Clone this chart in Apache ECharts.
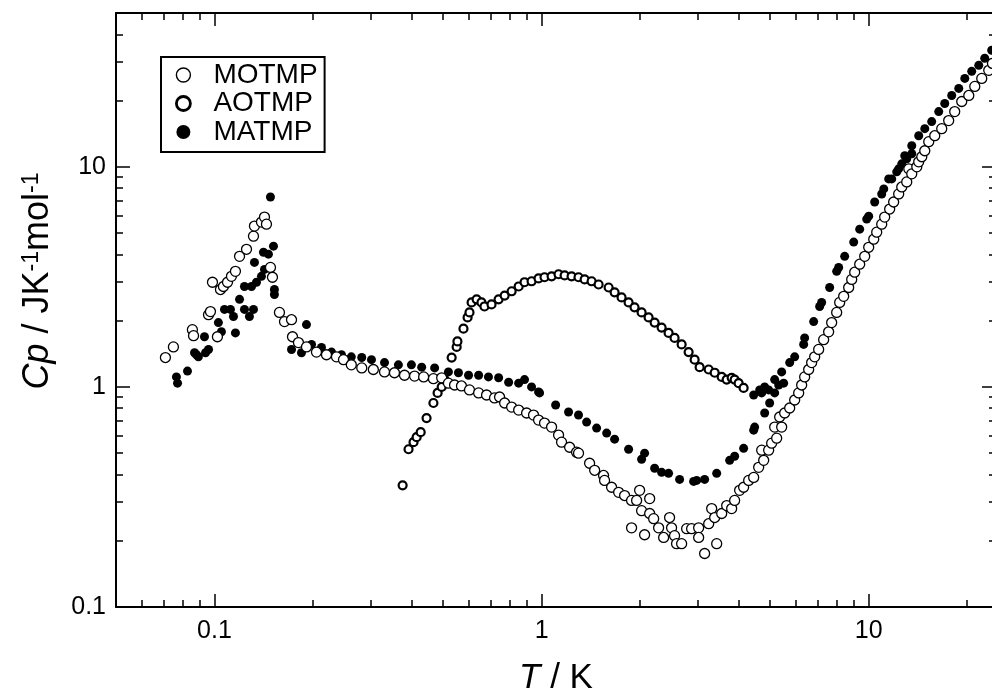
<!DOCTYPE html>
<html>
<head>
<meta charset="utf-8">
</head>
<body style="margin:0">
<div id="chart" style="width:992px;height:691px"></div>
<script src="https://cdn.jsdelivr.net/npm/echarts@6.0.0/dist/echarts.min.js"></script>
<script>
// [T (K), Cp (J K-1 mol-1)]
const motmp = [
  [0.0708,1.36],[0.0749,1.52],[0.0856,1.82],[0.0863,1.71],[0.0959,2.13],[0.0972,2.20],[0.0986,2.99],[0.1021,1.69],
  [0.1043,2.77],[0.1065,2.86],[0.1096,2.99],[0.1127,3.18],[0.1159,3.35],[0.1193,3.92],[0.1253,4.22],[0.1316,4.84],
  [0.1325,5.38],[0.1392,5.61],[0.1422,5.91],[0.1442,5.49],[0.1483,3.49],[0.1504,3.15],
  [0.158,2.18],[0.1637,1.98],[0.172,2.02],[0.1732,1.69],[0.1806,1.59],[0.1911,1.52],[0.205,1.44],[0.220,1.40],
  [0.236,1.37],[0.248,1.33],[0.262,1.26],[0.282,1.22],[0.306,1.20],[0.331,1.17],[0.355,1.16],[0.381,1.13],
  [0.409,1.12],[0.436,1.11],[0.467,1.09],[0.495,1.10],[0.519,1.04],[0.542,1.02],[0.569,1.01],[0.602,0.969],
  [0.642,0.939],[0.679,0.919],[0.718,0.891],[0.744,0.900],[0.771,0.845],[0.810,0.810],[0.851,0.785],[0.900,0.761],
  [0.945,0.745],[0.979,0.707],[1.021,0.685],[1.073,0.657],[1.127,0.604],[1.151,0.561],[1.218,0.532],[1.279,0.505],
  [1.297,0.500],[1.402,0.450],[1.453,0.418],[1.547,0.396],[1.558,0.376],[1.637,0.350],[1.720,0.332],[1.794,0.321],
  [1.884,0.305],[1.952,0.305],[1.994,0.339],[2.140,0.311],[2.022,0.274],[2.140,0.266],[2.201,0.252],[2.279,0.229],
  [1.884,0.229],[2.065,0.213],[2.361,0.207],[2.462,0.255],[2.497,0.229],[2.550,0.211],[2.586,0.194],[2.680,0.194],
  [2.776,0.227],[2.875,0.227],[3.021,0.229],[3.021,0.207],[3.151,0.175],[3.430,0.194],[3.242,0.239],[3.311,0.280],
  [3.382,0.255],[3.553,0.266],[3.680,0.289],[3.811,0.280],[3.892,0.305],[4.031,0.339],[4.146,0.350],[4.296,0.376],
  [4.450,0.388],[4.609,0.431],[4.775,0.464],[4.708,0.516],[4.945,0.516],[5.051,0.555],[5.232,0.585],[5.159,0.657],
  [5.419,0.657],[5.343,0.730],[5.535,0.761],[5.734,0.802],[5.939,0.872],[6.108,0.939],[6.238,1.02],[6.371,1.11],
  [6.553,1.20],[6.693,1.29],[6.836,1.37],[7.031,1.48],[7.282,1.64],[7.543,1.78],[7.705,1.96],[7.981,2.18],
  [8.152,2.42],[8.385,2.58],[8.685,2.83],[8.872,3.08],[9.061,3.32],[9.386,3.61],[9.723,3.92],[10.0,4.31],
  [10.36,4.69],[10.58,5.05],[10.96,5.49],[11.19,5.91],[11.59,6.43],[11.92,6.92],[12.35,7.53],[12.62,8.10],
  [13.07,8.54],[13.26,9.79],[13.54,9.29],[14.03,10.0],[14.22,10.54],[14.53,11.11],[14.84,11.83],[15.26,13.01],
  [15.92,13.85],[16.72,14.91],[17.56,16.22],[18.32,17.83],[19.25,19.81],[20.23,21.10],[21.10,23.19],[22.16,25.22],
  [23.28,27.44],[23.9,29.5]
];

const aotmp = [
  [0.376,0.357],[0.392,0.521],[0.406,0.561],[0.415,0.591],[0.427,0.623],[0.445,0.722],[0.467,0.845],[0.481,0.939],
  [0.495,1.00],[0.505,1.08],[0.531,1.36],[0.550,1.52],[0.553,1.61],[0.577,1.84],[0.594,2.07],[0.602,2.18],
  [0.611,2.42],[0.633,2.50],[0.655,2.42],[0.669,2.32],[0.703,2.37],[0.739,2.50],[0.771,2.60],[0.810,2.72],
  [0.851,2.86],[0.887,2.99],[0.932,3.02],[0.979,3.11],[1.021,3.15],[1.073,3.18],[1.127,3.25],[1.176,3.21],
  [1.235,3.18],[1.297,3.15],[1.354,3.08],[1.422,3.02],[1.494,2.92],[1.603,2.83],[1.672,2.69],[1.756,2.55],
  [1.845,2.42],[1.924,2.30],[2.022,2.18],[2.124,2.07],[2.216,1.96],[2.328,1.86],[2.445,1.76],[2.550,1.67],
  [2.680,1.56],[2.815,1.44],[2.937,1.33],[3.042,1.23],[3.242,1.20],[3.382,1.16],[3.553,1.11],[3.680,1.08],
  [3.811,1.10],[3.892,1.08],[4.003,1.04],[4.146,0.99]
];

const matmp = [
  [0.0765,1.11],[0.0771,1.04],[0.0827,1.18],[0.0869,1.43],[0.0881,1.40],[0.0893,1.37],[0.0932,1.69],[0.0939,1.43],
  [0.0959,1.48],[0.1028,1.96],[0.105,1.78],[0.1073,2.25],[0.1119,2.25],[0.1143,2.09],[0.1159,1.76],[0.1193,2.50],
  [0.1235,2.25],[0.1235,2.86],[0.1279,2.09],[0.1316,2.25],[0.1298,2.86],[0.1344,2.99],[0.1325,3.68],[0.1392,3.18],
  [0.1412,4.09],[0.1422,3.42],[0.1515,4.36],[0.1462,4.01],[0.1525,2.77],[0.1525,2.63],[0.1483,7.29],
  [0.172,1.48],[0.1845,1.43],[0.1911,1.92],[0.198,1.56],[0.2124,1.51],[0.228,1.44],[0.2445,1.40],[0.262,1.37],
  [0.282,1.36],[0.302,1.33],[0.331,1.29],[0.365,1.26],[0.400,1.26],[0.430,1.23],[0.471,1.22],[0.519,1.17],
  [0.557,1.16],[0.598,1.13],[0.642,1.13],[0.688,1.11],[0.739,1.10],[0.793,1.05],[0.851,1.04],[0.887,1.08],
  [0.932,1.00],[0.979,0.949],[0.986,0.939],[1.104,0.828],[1.209,0.769],[1.297,0.745],[1.373,0.692],[1.473,0.650],
  [1.581,0.617],[1.672,0.579],[1.845,0.521],[2.065,0.500],[2.022,0.469],[2.216,0.427],[2.328,0.409],[2.445,0.405],
  [2.642,0.380],[2.916,0.372],[2.979,0.376],[3.151,0.380],[3.430,0.405],[3.758,0.464],[3.892,0.484],[4.146,0.526],
  [4.450,0.636],[4.481,0.657],[4.808,0.761],[4.980,0.845],[5.159,0.939],[4.708,0.939],[4.945,0.969],[5.306,1.02],
  [5.496,1.04],[4.450,0.919],[4.642,0.969],[4.808,1.00],[5.159,1.08],[5.419,1.17],[5.734,1.29],[5.939,1.37],
  [6.326,1.56],[6.371,1.67],[6.788,1.98],[7.080,2.32],[7.180,2.42],[7.596,2.83],[7.981,3.35],[8.094,3.49],
  [8.444,3.92],[8.998,4.55],[9.386,5.21],[9.860,5.79],[10.0,5.97],[10.43,6.92],[10.96,7.53],[11.12,7.94],
  [11.51,8.81],[11.76,8.81],[12.18,9.49],[12.35,9.79],[12.62,10.32],[12.89,11.23],[13.07,10.88],[13.54,11.47],
  [13.54,12.47],[14.22,13.85],[14.84,14.91],[15.58,16.05],[16.37,17.83],[17.08,19.40],[17.94,21.10],[18.85,22.71],
  [19.67,25.22],[20.65,27.15],[21.70,28.92],[22.63,31.13],[23.77,33.86]
];

const xRange = [0.05, 24.5];
const yRange = [0.1, 50];
const xMajorTicks = [0.1, 1, 10];
const xMinorTicks = [0.06, 0.07, 0.08, 0.09, 0.2, 0.3, 0.4, 0.5, 0.6, 0.7, 0.8, 0.9,
  2, 3, 4, 5, 6, 7, 8, 9, 20];
const yMajorTicks = [0.1, 1, 10];
const yMinorTicks = [0.2, 0.3, 0.4, 0.5, 0.6, 0.7, 0.8, 0.9, 2, 3, 4, 5, 6, 7, 8, 9, 20, 30, 40];

const font = "'Liberation Sans', Arial, sans-serif";
const chart = echarts.init(document.getElementById('chart'));

// one axis = one set of ticks; the grid gets four per direction
function tickAxis(position, range, values, length, showLine, showLabel) {
  return {
    type: 'log',
    logBase: 10,
    min: range[0],
    max: range[1],
    position: position,
    axisLine: { show: showLine, onZero: false, lineStyle: { color: '#000', width: 2 } },
    axisTick: { show: true, inside: true, length: length, customValues: values,
      lineStyle: { color: '#000', width: 1.5 } },
    axisLabel: { show: showLabel, customValues: values, color: '#000', fontSize: 25,
      fontFamily: font, margin: 12 },
    splitLine: { show: false },
    minorTick: { show: false }
  };
}

const xMain = tickAxis('bottom', xRange, xMajorTicks, 13, true, true);
xMain.name = '{i|T} / K';
xMain.nameLocation = 'middle';
xMain.nameGap = 54;
xMain.nameTextStyle = { color: '#000', fontSize: 35, fontFamily: font,
  rich: { i: { fontSize: 35, fontStyle: 'italic', fontFamily: font, color: '#000' } } };

const yMain = tickAxis('left', yRange, yMajorTicks, 14, true, true);
yMain.axisLabel.margin = 10;
yMain.name = '{i|Cp} / JK{s|-1}mol{s|-1}';
yMain.nameLocation = 'middle';
yMain.nameGap = 60;
yMain.nameTextStyle = { color: '#000', fontSize: 36, fontFamily: font, padding: [0, 0, 0, 58],
  rich: {
    i: { fontSize: 36, fontStyle: 'italic', fontFamily: font, color: '#000' },
    s: { fontSize: 23, fontFamily: font, color: '#000', verticalAlign: 'top' }
  } };

const option = {
  animation: false,
  backgroundColor: '#fff',
  grid: { left: 116, right: -4, top: 13, bottom: 84, outerBoundsMode: 'none', containLabel: false },
  xAxis: [
    xMain,
    tickAxis('bottom', xRange, xMinorTicks, 7, false, false),
    tickAxis('top', xRange, xMajorTicks, 13, true, false),
    tickAxis('top', xRange, xMinorTicks, 7, false, false)
  ],
  yAxis: [
    yMain,
    tickAxis('left', yRange, yMinorTicks, 7, false, false),
    tickAxis('right', yRange, yMajorTicks, 14, true, false),
    tickAxis('right', yRange, yMinorTicks, 7, false, false)
  ],
  legend: {
    orient: 'vertical',
    left: 161,
    top: 57,
    padding: [4, 7, 6, 14],
    itemGap: 0.5,
    itemWidth: 30,
    itemHeight: 14,
    borderColor: '#000',
    borderWidth: 2,
    backgroundColor: '#fff',
    textStyle: { color: '#000', fontSize: 28, fontFamily: font, lineHeight: 28, padding: [0, 0, 0, 10] },
    data: [
      { name: 'MOTMP', itemStyle: { borderWidth: 1.4 } },
      { name: 'AOTMP', itemStyle: { borderWidth: 2.8 } },
      { name: 'MATMP' }
    ]
  },
  series: [
    {
      name: 'MATMP', type: 'scatter', data: matmp, symbol: 'circle', symbolSize: 9,
      itemStyle: { color: '#000', opacity: 1 }
    },
    {
      name: 'AOTMP', type: 'scatter', data: aotmp, symbol: 'circle', symbolSize: 8,
      itemStyle: { color: '#fff', borderColor: '#000', borderWidth: 2.2, opacity: 1 }
    },
    {
      name: 'MOTMP', type: 'scatter', data: motmp, symbol: 'circle', symbolSize: 10,
      itemStyle: { color: '#fff', borderColor: '#000', borderWidth: 1.3, opacity: 1 }
    }
  ]
};
chart.setOption(option);
</script>
</body>
</html>
